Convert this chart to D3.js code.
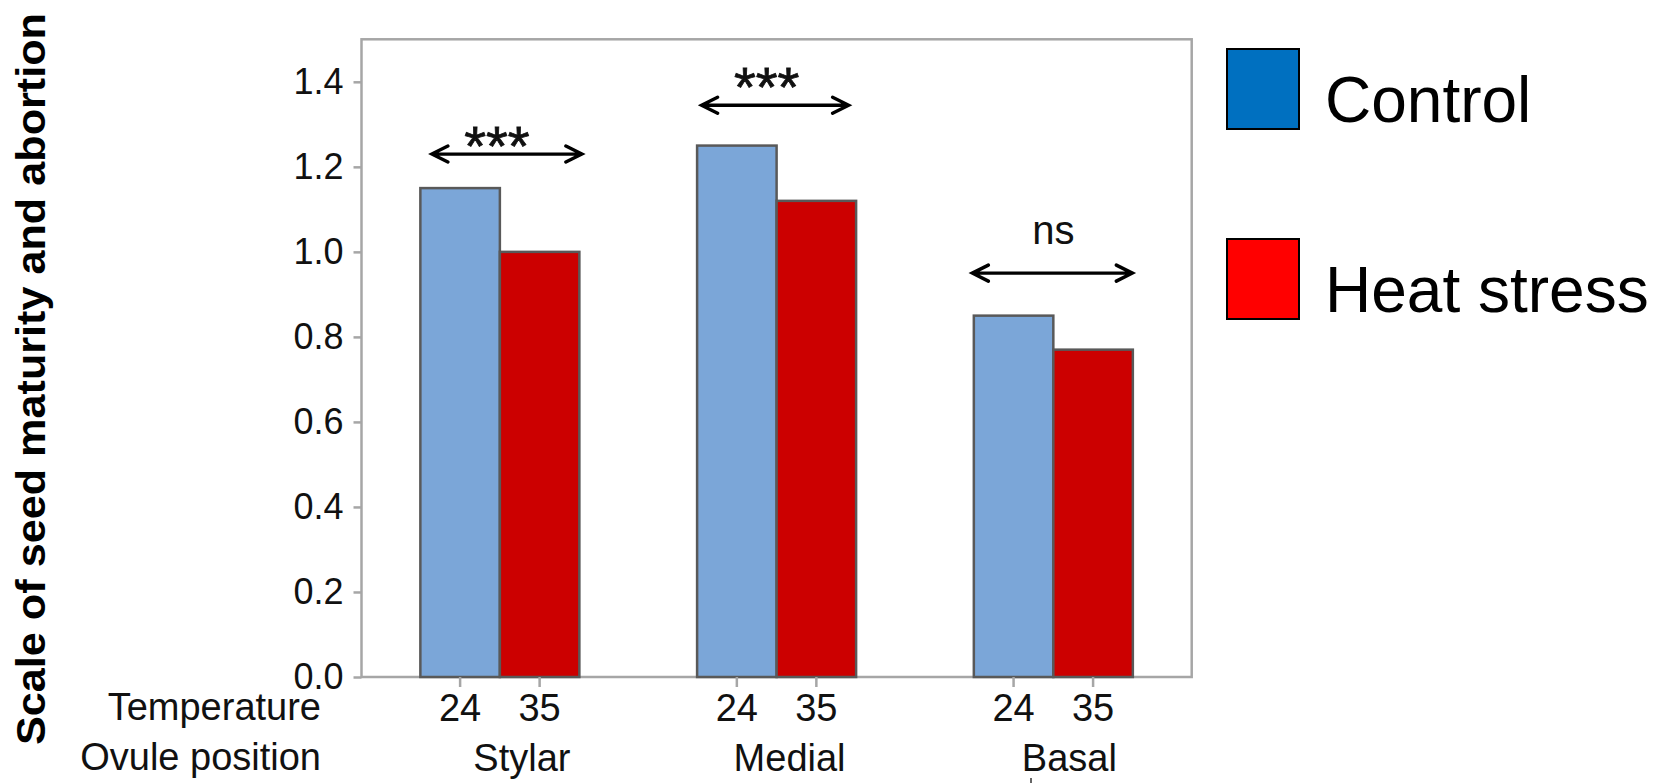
<!DOCTYPE html>
<html>
<head>
<meta charset="utf-8">
<script src="https://cdn.jsdelivr.net/npm/d3@7"></script>
<style>
  html, body { margin: 0; padding: 0; background: #fff; }
  svg { display: block; font-family: "Liberation Sans", Arial, sans-serif; }
</style>
</head>
<body>
<svg id="chart" width="1658" height="783"></svg>
<script>
// ---- data ----
const groups = ["Stylar", "Medial", "Basal"];
const series = ["Control", "Heat stress"];
const temperatures = ["24", "35"];
const controlValues = [1.15, 1.25, 0.85];
const heatValues = [1.0, 1.12, 0.77];
const yTicks = [0, 0.2, 0.4, 0.6, 0.8, 1.0, 1.2, 1.4];
const sigLabels = ["***", "***", "ns"];
const arrowLevels = [1.23, 1.345, 0.95];
const labelLevels = [1.205, 1.343, 1.019];

(function draw() {
  const svg = d3.select("#chart");
  const plotL = 361.5, plotR = 1191.7, plotT = 39.3, plotB = 677;
  const blueFill = "#7BA6D8", redFill = "#CC0000";
  const legendBlue = "#0070C0", legendRed = "#FF0000";
  const frameCol = "#A6A6A6";

  const y = d3.scaleLinear().domain([0, 1.5]).range([plotB, plotT]);
  const x0 = d3.scaleBand().domain(groups).range([plotL, plotR])
    .paddingInner(0.4254).paddingOuter(0.2127);
  const x1 = d3.scaleBand().domain(series).range([0, x0.bandwidth()]);
  const color = d3.scaleOrdinal().domain(series).range([blueFill, redFill]);

  const rows = groups.map((g, i) => ({ group: g, values: [
    { key: series[0], value: controlValues[i] },
    { key: series[1], value: heatValues[i] }
  ]}));

  // plot frame
  svg.append("rect")
    .attr("x", plotL).attr("y", plotT)
    .attr("width", plotR - plotL).attr("height", plotB - plotT)
    .attr("fill", "none").attr("stroke", frameCol).attr("stroke-width", 2.5);

  // y axis
  const yAxis = svg.append("g")
    .attr("transform", `translate(${plotL},0)`)
    .call(d3.axisLeft(y).tickValues(yTicks).tickFormat(d3.format(".1f"))
      .tickSize(8).tickPadding(10));
  yAxis.select(".domain").remove();
  yAxis.selectAll(".tick line").attr("stroke", frameCol).attr("stroke-width", 2.5);
  yAxis.selectAll(".tick text")
    .attr("font-family", "Liberation Sans, Arial, sans-serif")
    .attr("font-size", 36).attr("fill", "#111").attr("dy", "0.33em");

  // bars
  const gGroups = svg.append("g").selectAll("g").data(rows).join("g")
    .attr("transform", d => `translate(${x0(d.group)},0)`);
  gGroups.selectAll("rect").data(d => d.values).join("rect")
    .attr("x", d => x1(d.key))
    .attr("y", d => y(d.value))
    .attr("width", x1.bandwidth())
    .attr("height", d => y(0) - y(d.value))
    .attr("fill", d => color(d.key))
    .attr("stroke", "#595959").attr("stroke-width", 2.5);

  // x axis (temperatures) per group
  groups.forEach(g => {
    const ax = svg.append("g")
      .attr("transform", `translate(${x0(g)},${plotB})`)
      .call(d3.axisBottom(x1).tickSize(10).tickPadding(7)
        .tickFormat(d => temperatures[series.indexOf(d)]));
    ax.select(".domain").remove();
    ax.selectAll(".tick line").attr("stroke", frameCol).attr("stroke-width", 2.5);
    ax.selectAll(".tick text")
      .attr("font-family", "Liberation Sans, Arial, sans-serif")
      .attr("font-size", 38).attr("fill", "#111");
  });

  // group labels
  const groupLabelShift = [22, 13, 16];
  svg.append("g").selectAll("text").data(groups).join("text")
    .attr("x", (d, i) => x0(d) + x0.bandwidth() / 2 + groupLabelShift[i])
    .attr("y", 771)
    .attr("text-anchor", "middle")
    .attr("font-size", 38).attr("fill", "#111")
    .text(d => d);

  // row titles
  svg.append("text").attr("x", 321).attr("y", 720)
    .attr("text-anchor", "end").attr("font-size", 38).attr("fill", "#111")
    .text("Temperature");
  svg.append("text").attr("x", 321).attr("y", 770)
    .attr("text-anchor", "end").attr("font-size", 38).attr("fill", "#111")
    .text("Ovule position");

  // stray small mark near bottom
  svg.append("line").attr("x1", 1031).attr("x2", 1031).attr("y1", 778).attr("y2", 783)
    .attr("stroke", "#333").attr("stroke-width", 1.5);

  // y title
  svg.append("text")
    .attr("transform", "translate(45,379) rotate(-90)")
    .attr("text-anchor", "middle")
    .attr("font-weight", "bold").attr("font-size", 40).attr("fill", "#000")
    .attr("textLength", 732).attr("lengthAdjust", "spacingAndGlyphs")
    .text("Scale of seed maturity and abortion");

  // significance arrows
  const arrowSpans = [[-68, 82], [-75, 72], [-81, 79]];
  const labelShift = [-3, -10, 0];
  const annG = svg.append("g");
  groups.forEach((g, i) => {
    const cx = x0(g) + x0.bandwidth() / 2;
    const ay = y(arrowLevels[i]);
    const xa = cx + arrowSpans[i][0], xb = cx + arrowSpans[i][1];
    const hl = 16, hh = 8;
    annG.append("path")
      .attr("d", `M${xa},${ay}H${xb}` +
        `M${xa + hl},${ay - hh}L${xa},${ay}L${xa + hl},${ay + hh}` +
        `M${xb - hl},${ay - hh}L${xb},${ay}L${xb - hl},${ay + hh}`)
      .attr("fill", "none").attr("stroke", "#000").attr("stroke-width", 3.4)
      .attr("stroke-linecap", "round").attr("stroke-linejoin", "miter");
    const isStar = sigLabels[i] === "***";
    annG.append("text")
      .attr("x", cx + labelShift[i])
      .attr("y", y(labelLevels[i]))
      .attr("text-anchor", "middle")
      .attr("font-size", isStar ? 56 : 40).attr("fill", "#111")
      .attr("stroke", isStar ? "#111" : "none").attr("stroke-width", isStar ? 0.8 : 0)
      .text(sigLabels[i]);
  });

  // legend
  const legend = svg.append("g").selectAll("g").data(series).join("g")
    .attr("transform", (d, i) => `translate(1227,${49 + i * 190})`);
  legend.append("rect")
    .attr("width", 72).attr("height", 80)
    .attr("fill", (d, i) => i === 0 ? legendBlue : legendRed)
    .attr("stroke", "#000").attr("stroke-width", 2);
  legend.append("text")
    .attr("x", 98).attr("y", 73)
    .attr("font-size", 64).attr("fill", "#000")
    .text(d => d);
})();
</script>
</body>
</html>
